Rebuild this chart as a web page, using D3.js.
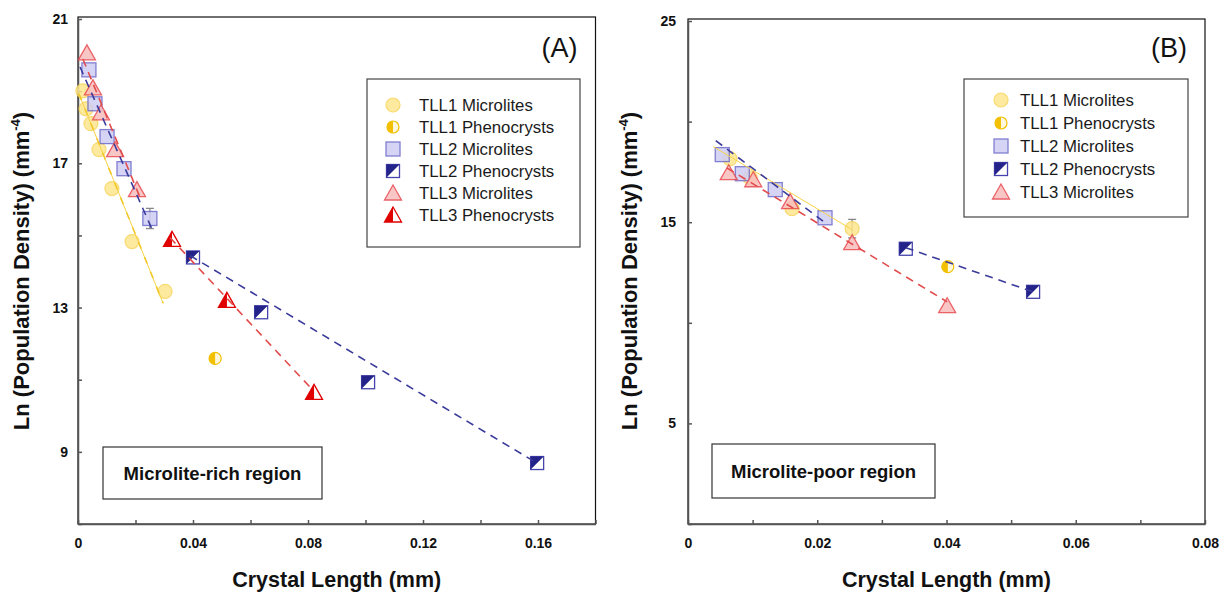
<!DOCTYPE html>
<html lang="en">
<head>
<meta charset="UTF-8">
<title>Crystal size distributions</title>
<script src="https://d3js.org/d3.v7.min.js"></script>
<style>
  body { margin: 0; background: #fff; }
  svg { font-family: Arial, "Liberation Sans", sans-serif; }
  .axis .tick text { font-weight: bold; font-size: 14px; fill: #111; }
  .axis path, .axis line { stroke: #555; stroke-width: 1.5; }
</style>
</head>
<body>
<svg id="chart" width="1225" height="594"></svg>
<script>
// ---- values ----
// Panel A (microlite-rich region): [crystal length mm, ln n]
const aTll1Micro = [[0.0017, 19.01], [0.0028, 18.51], [0.0045, 18.10], [0.0073, 17.38], [0.0118, 16.30], [0.0188, 14.83], [0.0303, 13.45]];
const aTll1Pheno = [[0.0477, 11.59]];
const aTll2Micro = [[0.0038, 19.59], [0.0059, 18.65], [0.0101, 17.74], [0.0160, 16.85], [0.0250, 15.47]];
const aTll2Pheno = [[0.0400, 14.39], [0.0637, 12.87], [0.1009, 10.93], [0.1597, 8.69]];
const aTll3Micro = [[0.0031, 20.06], [0.0052, 19.09], [0.0080, 18.40], [0.0129, 17.38], [0.0205, 16.27]];
const aTll3Pheno = [[0.0327, 14.89], [0.0518, 13.20], [0.0821, 10.65]];
const aErrors = [[0.0250, 15.47, 0.28]];
// regression lines, panel A
const aFitTll1 = [[0.0003, 18.93], [0.0296, 13.12]];
const aFitTll2Micro = [[0.0007, 19.67], [0.0261, 15.11]];
const aFitTll2Pheno = [[0.0390, 14.44], [0.1590, 8.72]];
const aFitTll3Micro = [[0.0017, 19.89], [0.0216, 16.05]];
const aFitTll3Pheno = [[0.0320, 14.94], [0.0817, 10.71]];

// Panel B (microlite-poor region)
const bTll1Micro = [[0.0065, 18.16], [0.0096, 17.21], [0.0161, 15.67], [0.0254, 14.68]];
const bTll1Pheno = [[0.0402, 12.79]];
const bTll2Micro = [[0.0053, 18.36], [0.0084, 17.41], [0.0135, 16.62], [0.0212, 15.22]];
const bTll2Pheno = [[0.0337, 13.68], [0.0534, 11.54]];
const bTll3Micro = [[0.0063, 17.46], [0.0101, 17.11], [0.0158, 16.02], [0.0254, 13.98], [0.0401, 10.85]];
const bErrors = [[0.0254, 14.68, 0.46]];
const bFitTll1 = [[0.0039, 18.76], [0.0254, 14.63]];
const bFitTll2Micro = [[0.0043, 19.05], [0.0212, 14.98]];
const bFitTll2Pheno = [[0.0337, 13.73], [0.0534, 11.54]];
const bFitTll3Micro = [[0.0060, 17.70], [0.0401, 11.04]];

// axes
const aXTicks = [0, 0.02, 0.04, 0.06, 0.08, 0.10, 0.12, 0.14, 0.16, 0.18];
const aXLabels = ["0", "", "0.04", "", "0.08", "", "0.12", "", "0.16", ""];
const aYTicks = [7, 9, 11, 13, 15, 17, 19, 21];
const aYLabels = ["", "9", "", "13", "", "17", "", "21"];
const bXTicks = [0, 0.01, 0.02, 0.03, 0.04, 0.05, 0.06, 0.07, 0.08];
const bXLabels = ["0", "", "0.02", "", "0.04", "", "0.06", "", "0.08"];
const bYTicks = [0, 5, 10, 15, 20, 25];
const bYLabels = ["", "5", "", "15", "", "25"];

const legendNamesA = ["TLL1 Microlites", "TLL1 Phenocrysts", "TLL2 Microlites", "TLL2 Phenocrysts", "TLL3 Microlites", "TLL3 Phenocrysts"];
const legendNamesB = ["TLL1 Microlites", "TLL1 Phenocrysts", "TLL2 Microlites", "TLL2 Phenocrysts", "TLL3 Microlites"];
const legendKinds = ["c", "cp", "s", "sp", "t", "tp"];

const xTitle = "Crystal Length (mm)";
const yTitle = "Ln (Population Density) (mm";

// ---- drawing ----
const svg = d3.select("#chart");

// line styles per series
const lineStyle = {
    tll1: { stroke: "#f7d248", width: 1, dash: null },
    tll2: { stroke: "#3b3b9c", width: 1.6, dash: "8,6" },
    tll3: { stroke: "#e24b4b", width: 1.6, dash: "8,6" }
};

function marker(g, kind, x, y) {
    const m = g.append("g").attr("transform", "translate(" + x + "," + y + ")");
    if (kind === "c") {
        m.append("circle").attr("r", 7)
            .attr("fill", "#fde78f").attr("stroke", "#f7d45a").attr("stroke-width", 1.2)
            .attr("opacity", 0.85);
    } else if (kind === "cp") {
        m.append("circle").attr("r", 6)
            .attr("fill", "#fff8dc").attr("stroke", "#f2c000").attr("stroke-width", 1.2);
        m.append("path").attr("d", "M0,-6 A6,6 0 0,0 0,6 Z").attr("fill", "#f2c000");
    } else if (kind === "s") {
        m.append("rect").attr("x", -7).attr("y", -7).attr("width", 14).attr("height", 14)
            .attr("fill", "#cfcdf4").attr("stroke", "#6b68c8").attr("stroke-width", 1.3)
            .attr("opacity", 0.85);
    } else if (kind === "sp") {
        m.append("rect").attr("x", -6.5).attr("y", -6.5).attr("width", 13).attr("height", 13)
            .attr("fill", "#fff").attr("stroke", "#4644ac").attr("stroke-width", 1.3);
        m.append("path").attr("d", "M-6.5,-6.5 L6.5,-6.5 L-6.5,6.5 Z").attr("fill", "#23238a");
    } else if (kind === "t") {
        m.append("path").attr("d", "M0,-8 L8.5,7 L-8.5,7 Z")
            .attr("fill", "#f9bdbd").attr("stroke", "#e8474d").attr("stroke-width", 1.3)
            .attr("opacity", 0.85);
    } else if (kind === "tp") {
        m.append("path").attr("d", "M0,-8 L8.5,7 L-8.5,7 Z")
            .attr("fill", "#fff").attr("stroke", "#e00000").attr("stroke-width", 1.3);
        m.append("path").attr("d", "M0,-8 L0,7 L-8.5,7 Z").attr("fill", "#e00000");
    }
}

function drawPanel(cfg) {
    const g = svg.append("g");
    const x = d3.scaleLinear().domain(cfg.xDomain).range(cfg.xRange);
    const y = d3.scaleLinear().domain(cfg.yDomain).range(cfg.yRange);

    // frame (top / right border)
    g.append("rect")
        .attr("x", cfg.xRange[0]).attr("y", cfg.yRange[1] - 2)
        .attr("width", cfg.xRange[1] - cfg.xRange[0])
        .attr("height", cfg.yRange[0] - cfg.yRange[1] + 2)
        .attr("fill", "none").attr("stroke", "#111").attr("stroke-width", 1.2);

    // axes
    g.append("g").attr("class", "axis")
        .attr("transform", "translate(0," + cfg.yRange[0] + ")")
        .call(d3.axisBottom(x).tickValues(cfg.xTicks)
            .tickFormat((d, i) => cfg.xLabels[i])
            .tickSizeInner(-4).tickSizeOuter(0).tickPadding(14));
    g.append("g").attr("class", "axis")
        .attr("transform", "translate(" + cfg.xRange[0] + ",0)")
        .call(d3.axisLeft(y).tickValues(cfg.yTicks)
            .tickFormat((d, i) => cfg.yLabels[i])
            .tickSizeInner(-4).tickSizeOuter(0).tickPadding(cfg.yPad));

    // axis titles
    g.append("text")
        .attr("x", (cfg.xRange[0] + cfg.xRange[1]) / 2).attr("y", 587)
        .attr("text-anchor", "middle")
        .style("font-size", "21.5px").style("font-weight", "bold").attr("fill", "#111")
        .text(xTitle);
    const yt = g.append("text")
        .attr("transform", "translate(" + cfg.yTitleX + ",271) rotate(-90)")
        .attr("text-anchor", "middle")
        .style("font-size", "22px").style("font-weight", "bold").attr("fill", "#111");
    yt.append("tspan").text(yTitle);
    yt.append("tspan").attr("dy", -9).style("font-size", "13px").text("-4");
    yt.append("tspan").attr("dy", 9).text(")");

    // panel letter
    g.append("text")
        .attr("x", cfg.xRange[1] - 18).attr("y", 57)
        .attr("text-anchor", "end")
        .style("font-size", "27px").attr("fill", "#111")
        .text(cfg.letter);

    // error bars
    cfg.errors.forEach(e => {
        const ex = x(e[0]), y1 = y(e[1] + e[2]), y2 = y(e[1] - e[2]);
        g.append("line").attr("x1", ex).attr("x2", ex).attr("y1", y1).attr("y2", y2)
            .attr("stroke", "#888").attr("stroke-width", 1.3);
        [y1, y2].forEach(yy => g.append("line")
            .attr("x1", ex - 4).attr("x2", ex + 4).attr("y1", yy).attr("y2", yy)
            .attr("stroke", "#888").attr("stroke-width", 1.3));
    });

    // markers
    cfg.series.forEach(s => {
        s.data.forEach(d => marker(g, s.kind, x(d[0]), y(d[1])));
    });

    // fit lines
    const line = d3.line().x(d => x(d[0])).y(d => y(d[1]));
    cfg.fits.forEach(f => {
        const st = lineStyle[f.key];
        g.append("path").attr("d", line(f.data))
            .attr("fill", "none").attr("stroke", st.stroke)
            .attr("stroke-width", st.width)
            .attr("stroke-dasharray", st.dash);
        if (f.overDash) {
            g.append("path").attr("d", line(f.data))
                .attr("fill", "none").attr("stroke", "#f3c82a")
                .attr("stroke-width", 1.6).attr("stroke-dasharray", "7,9");
        }
    });

    // legend
    const lg = cfg.legend;
    g.append("rect").attr("x", lg.x).attr("y", lg.y).attr("width", lg.w).attr("height", lg.h)
        .attr("fill", "#fff").attr("stroke", "#444").attr("stroke-width", 1.2);
    cfg.legendNames.forEach((name, i) => {
        const yy = lg.rowY + i * lg.rowStep;
        marker(g, legendKinds[i], lg.mx, yy);
        g.append("text").attr("x", lg.tx).attr("y", yy).attr("dy", "0.36em")
            .style("font-size", "16.8px").attr("fill", "#1a1a1a").text(name);
    });

    // region box
    const rb = cfg.region;
    g.append("rect").attr("x", rb.x).attr("y", rb.y).attr("width", rb.w).attr("height", rb.h)
        .attr("fill", "#fff").attr("stroke", "#333").attr("stroke-width", 1.2);
    g.append("text").attr("x", rb.x + rb.w / 2).attr("y", rb.y + rb.h / 2).attr("dy", "0.36em")
        .attr("text-anchor", "middle")
        .style("font-size", "18.5px").style("font-weight", "bold").attr("fill", "#111")
        .text(rb.text);
}

drawPanel({
    letter: "(A)",
    xDomain: [0, 0.18], xRange: [78, 595.5],
    yDomain: [7, 21], yRange: [524, 19],
    xTicks: aXTicks, xLabels: aXLabels, yTicks: aYTicks, yLabels: aYLabels,
    yPad: 10, yTitleX: 29,
    series: [
        { kind: "c", data: aTll1Micro }, { kind: "cp", data: aTll1Pheno },
        { kind: "s", data: aTll2Micro }, { kind: "sp", data: aTll2Pheno },
        { kind: "t", data: aTll3Micro }, { kind: "tp", data: aTll3Pheno }
    ],
    errors: aErrors,
    fits: [
        { key: "tll1", data: aFitTll1, overDash: true },
        { key: "tll2", data: aFitTll2Micro }, { key: "tll2", data: aFitTll2Pheno },
        { key: "tll3", data: aFitTll3Micro }, { key: "tll3", data: aFitTll3Pheno }
    ],
    legendNames: legendNamesA,
    legend: { x: 367, y: 79, w: 213, h: 168, mx: 393, tx: 419, rowY: 105, rowStep: 22 },
    region: { x: 103, y: 447, w: 219, h: 52, text: "Microlite-rich region" }
});

drawPanel({
    letter: "(B)",
    xDomain: [0, 0.08], xRange: [688, 1205],
    yDomain: [0, 25], yRange: [524, 21],
    xTicks: bXTicks, xLabels: bXLabels, yTicks: bYTicks, yLabels: bYLabels,
    yPad: 12, yTitleX: 637,
    series: [
        { kind: "c", data: bTll1Micro }, { kind: "cp", data: bTll1Pheno },
        { kind: "s", data: bTll2Micro }, { kind: "sp", data: bTll2Pheno },
        { kind: "t", data: bTll3Micro }
    ],
    errors: bErrors,
    fits: [
        { key: "tll1", data: bFitTll1 },
        { key: "tll2", data: bFitTll2Micro }, { key: "tll2", data: bFitTll2Pheno },
        { key: "tll3", data: bFitTll3Micro }
    ],
    legendNames: legendNamesB,
    legend: { x: 964, y: 79, w: 224, h: 138, mx: 1001, tx: 1020, rowY: 100, rowStep: 23 },
    region: { x: 712, y: 444, w: 223, h: 54, text: "Microlite-poor region" }
});
</script>
</body>
</html>
